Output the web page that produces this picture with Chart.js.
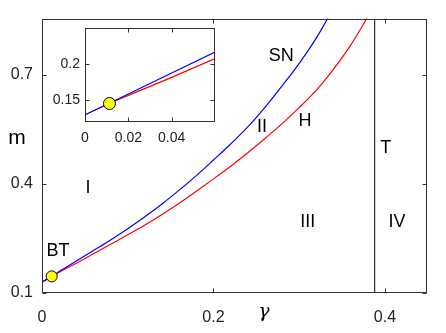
<!DOCTYPE html>
<html>
<head>
<meta charset="utf-8">
<script src="https://cdn.jsdelivr.net/npm/chart.js@4.4.0/dist/chart.umd.min.js"></script>
<style>
body { margin: 0; background: #fff; }
#wrap { position: relative; width: 446px; height: 333px; }
#mainChart { position: absolute; left: 0; top: 0; }
#insetChart { position: absolute; left: 40px; top: 15px; }
</style>
</head>
<body>
<div id="wrap">
  <canvas id="mainChart" width="446" height="333"></canvas>
  <canvas id="insetChart" width="185" height="130"></canvas>
</div>
<script>
// saddle-node curve (blue)
var gammaSN = [0, 0.0113, 0.02, 0.04, 0.06, 0.08, 0.10, 0.12, 0.14, 0.16, 0.18, 0.20, 0.22, 0.24, 0.26, 0.28, 0.30, 0.32, 0.34]
var mSN = [0.130, 0.146, 0.159, 0.188, 0.217, 0.246, 0.277, 0.310, 0.345, 0.383, 0.423, 0.466, 0.510, 0.557, 0.611, 0.670, 0.732, 0.802, 0.884]
// hopf curve (red)
var gammaH = [0, 0.0113, 0.02, 0.04, 0.06, 0.08, 0.10, 0.12, 0.14, 0.16, 0.18, 0.20, 0.22, 0.24, 0.26, 0.28, 0.30, 0.32, 0.34, 0.36, 0.38, 0.39]
var mH = [0.130, 0.146, 0.157, 0.182, 0.208, 0.234, 0.260, 0.287, 0.316, 0.347, 0.380, 0.414, 0.449, 0.486, 0.525, 0.566, 0.610, 0.658, 0.716, 0.782, 0.860, 0.900]
// transcritical line
var gammaT = 0.388
var mT = [0.1, 0.855]
// Bogdanov-Takens point
var btGamma = 0.0113
var btM = 0.1457

var xTicksMain = [0, 0.2, 0.4]
var yTicksMain = [0.1, 0.4, 0.7]
var xTicksInset = [0, 0.02, 0.04]
var yTicksInset = [0.15, 0.2]

var regionText = ['I', 'II', 'III', 'IV', 'SN', 'H', 'T', 'BT']
var regionGamma = [0.0536, 0.2566, 0.310, 0.414, 0.279, 0.3067, 0.401, 0.0187]
var regionM = [0.390, 0.557, 0.296, 0.296, 0.753, 0.573, 0.498, 0.2156]

var FONT = '"Liberation Sans", Arial, sans-serif'

function pts(xs, ys) {
    return xs.map((x, i) => ({x: x, y: ys[i]}))
}

// box + inward ticks like the matlab figure
var boxTicks = {
    id: 'boxTicks',
    afterDraw(chart) {
        var ctx = chart.ctx, a = chart.chartArea
        var l = Math.round(a.left) + 0.5, r = Math.round(a.right) - 0.5
        var t = Math.round(a.top) + 0.5, b = Math.round(a.bottom) - 0.5
        ctx.save()
        ctx.strokeStyle = '#333'
        ctx.lineWidth = 1
        ctx.strokeRect(l, t, r - l, b - t)
        ctx.beginPath()
        chart.scales.x.ticks.forEach(tk => {
            var px = Math.round(chart.scales.x.getPixelForValue(tk.value)) + 0.5
            ctx.moveTo(px, b); ctx.lineTo(px, b - 4)
            ctx.moveTo(px, t); ctx.lineTo(px, t + 4)
        })
        chart.scales.y.ticks.forEach(tk => {
            var py = Math.round(chart.scales.y.getPixelForValue(tk.value)) + 0.5
            ctx.moveTo(l, py); ctx.lineTo(l + 4, py)
            ctx.moveTo(r, py); ctx.lineTo(r - 4, py)
        })
        ctx.stroke()
        ctx.restore()
    }
}

var regionLabels = {
    id: 'regionLabels',
    afterDatasetsDraw(chart) {
        var ctx = chart.ctx
        ctx.save()
        ctx.fillStyle = '#000'
        ctx.textAlign = 'center'
        ctx.textBaseline = 'middle'
        ctx.font = '18px ' + FONT
        regionText.forEach((txt, i) => {
            ctx.fillText(txt, chart.scales.x.getPixelForValue(regionGamma[i]), chart.scales.y.getPixelForValue(regionM[i]))
        })
        // axis names
        ctx.font = '21px ' + FONT
        ctx.fillText('m', 17, 138)
        ctx.font = 'italic 19px "DejaVu Serif", serif'
        ctx.fillText('γ', 264, 312)
        ctx.restore()
    }
}

function axisCfg(min, max, ticks, size, pad, fitKey, fitVal) {
    return {
        type: 'linear',
        min: min,
        max: max,
        afterBuildTicks: s => { s.ticks = ticks.map(v => ({value: v})) },
        afterFit: s => { s[fitKey] = fitVal },
        grid: {display: false, drawTicks: false},
        border: {display: false},
        ticks: {
            padding: pad,
            color: '#222',
            font: {family: FONT, size: size},
            callback: v => String(v)
        }
    }
}

var mainChart = new Chart(document.querySelector('#mainChart'), {
    type: 'scatter',
    data: {
        datasets: [
            {
                data: [{x: btGamma, y: btM}],
                pointRadius: 5.5,
                pointBackgroundColor: '#ffff10',
                pointBorderColor: '#000',
                pointBorderWidth: 1
            },
            {
                data: pts(gammaSN, mSN),
                showLine: true,
                borderColor: '#0000ff',
                borderWidth: 1.2,
                pointRadius: 0,
                cubicInterpolationMode: 'monotone'
            },
            {
                data: pts(gammaH, mH),
                showLine: true,
                borderColor: '#ff0000',
                borderWidth: 1.2,
                pointRadius: 0,
                cubicInterpolationMode: 'monotone'
            },
            {
                data: pts([gammaT, gammaT], mT),
                showLine: true,
                borderColor: '#000',
                borderWidth: 1,
                pointRadius: 0
            }
        ]
    },
    options: {
        responsive: false,
        animation: false,
        layout: {padding: {top: 12, right: 19, left: 0, bottom: 0}},
        plugins: {legend: {display: false}, tooltip: {enabled: false}},
        scales: {
            x: axisCfg(0, 0.449, xTicksMain, 16, 15, 'height', 40),
            y: axisCfg(0.1, 0.855, yTicksMain, 16, 9, 'width', 42)
        }
    },
    plugins: [boxTicks, regionLabels]
})

var insetChart = new Chart(document.querySelector('#insetChart'), {
    type: 'scatter',
    data: {
        datasets: [
            {
                data: [{x: btGamma, y: btM}],
                pointRadius: 6,
                pointBackgroundColor: '#ffff10',
                pointBorderColor: '#000',
                pointBorderWidth: 1
            },
            {
                data: pts(gammaSN, mSN),
                showLine: true,
                borderColor: '#0000ff',
                borderWidth: 1.2,
                pointRadius: 0
            },
            {
                data: pts(gammaH, mH),
                showLine: true,
                borderColor: '#ff0000',
                borderWidth: 1.2,
                pointRadius: 0
            }
        ]
    },
    options: {
        responsive: false,
        animation: false,
        layout: {padding: {top: 8, right: 10, left: 0, bottom: 0}},
        plugins: {legend: {display: false}, tooltip: {enabled: false}},
        scales: {
            x: axisCfg(0, 0.06, xTicksInset, 14, 8, 'height', 23),
            y: axisCfg(0.12, 0.25, yTicksInset, 14, 5, 'width', 45)
        }
    },
    plugins: [boxTicks]
})
</script>
</body>
</html>
